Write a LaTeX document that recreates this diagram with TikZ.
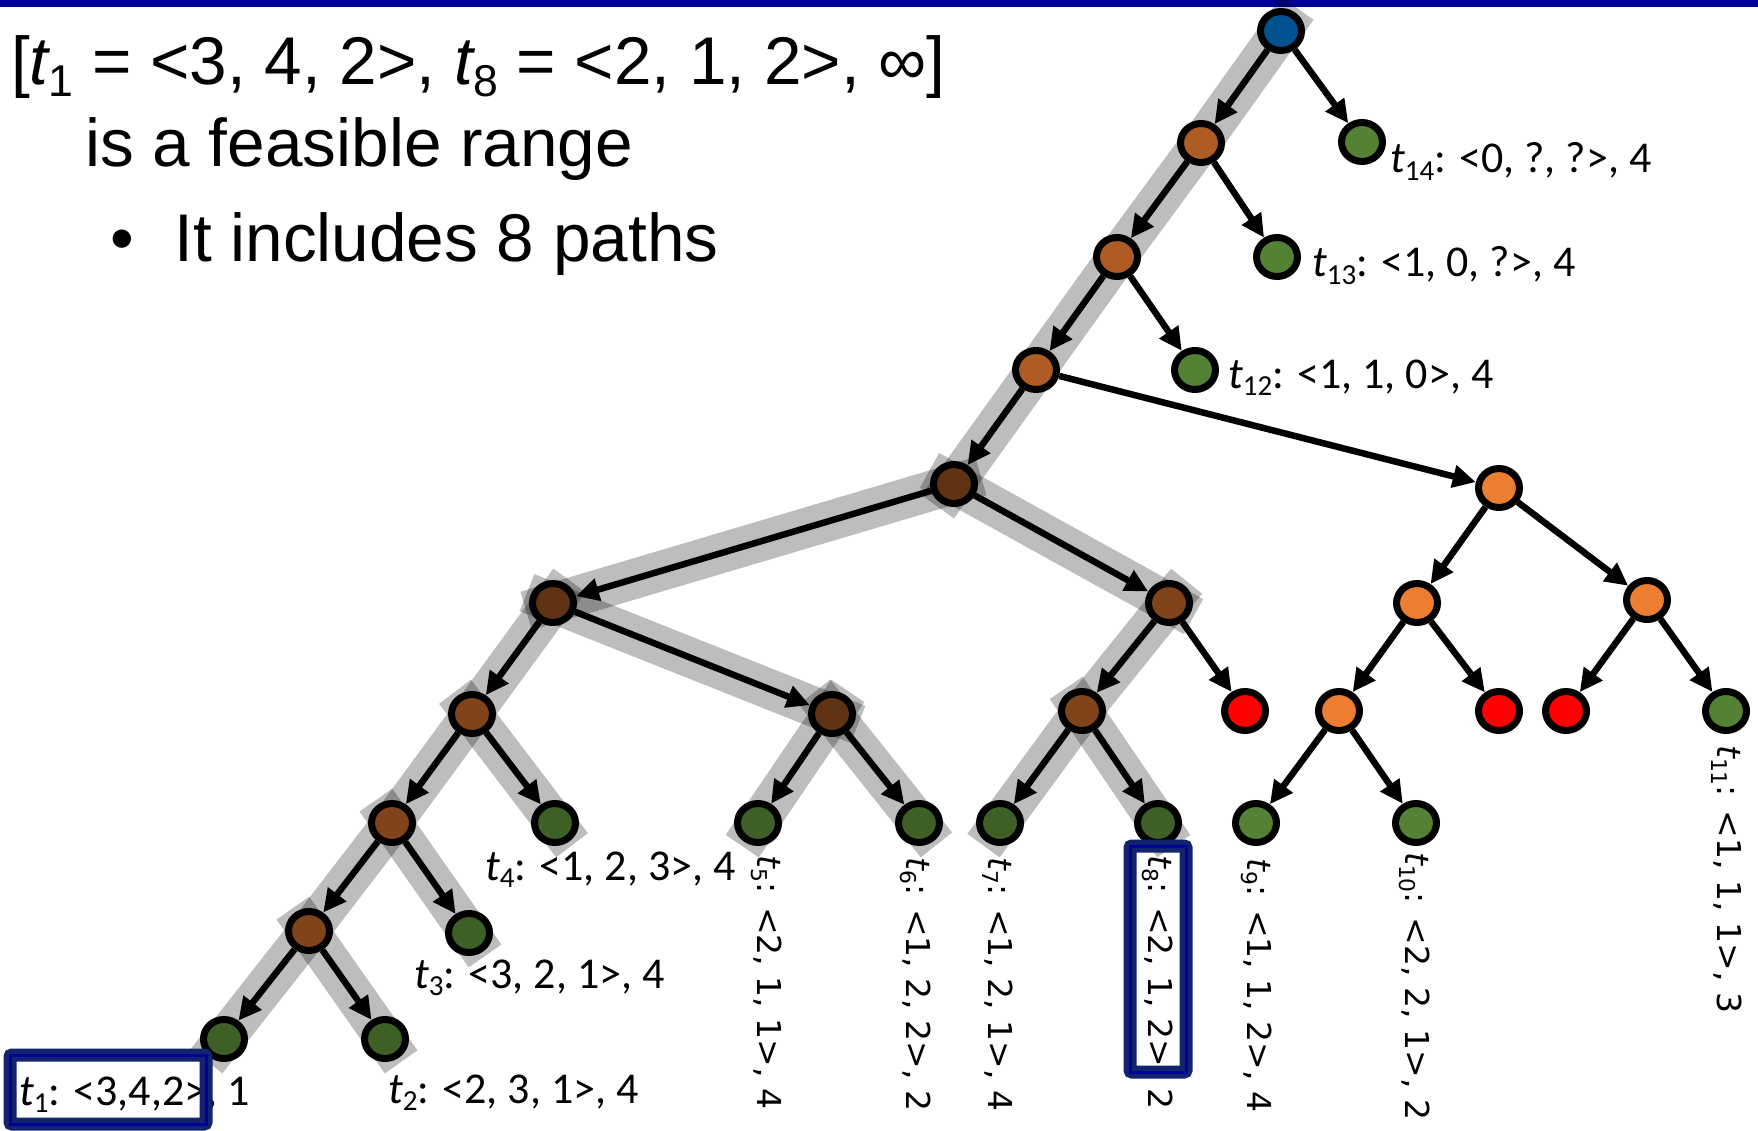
\documentclass[tikz,border=0pt]{standalone}
\usepackage{fontspec}
\usepackage{graphicx}
\setmainfont{Liberation Sans}
\newfontfamily\calfont{Carlito}
\newfontfamily\djfont{DejaVu Sans}
\usetikzlibrary{arrows.meta,shapes.geometric}
\definecolor{ngreen}{HTML}{548235}
\definecolor{norange}{HTML}{ED7D31}
\definecolor{nred}{HTML}{FF0000}
\definecolor{nblue}{HTML}{0070C0}
\definecolor{topbar}{HTML}{000099}
\definecolor{boxnavy}{HTML}{13246E}
\newcommand\ts[1]{{\itshape t}\raisebox{-0.17em}{\scalebox{0.66}{#1}}}
\tikzset{
  nd/.style={ellipse, draw=black, line width=7pt, minimum width=41pt, minimum height=39pt, inner sep=0pt},
  inner/.style={nd, fill=norange},
  leaf/.style={nd, fill=ngreen},
  dead/.style={nd, fill=nred},
  arr/.style={draw=black, line width=6.5pt, -{Triangle[length=23pt,width=22pt]}},
  band/.style={draw=black, draw opacity=0.26, line width=40pt, line join=round, shorten <=-28pt, shorten >=-28pt},
  title/.style={inner sep=0pt, anchor=base west, font=\fontsize{67.5}{80}\selectfont},
  cal/.style={inner sep=0pt, anchor=base west, font=\calfont\fontsize{44}{52}\selectfont},
  vlab/.style={inner sep=0pt, anchor=base west, rotate=-90, font=\djfont\fontsize{33}{40}\selectfont},
  hbox/.style={draw=boxnavy, line width=13pt, rounded corners=2pt},
  hboxin/.style={draw=topbar, line width=3pt}
}
\begin{document}
\begin{tikzpicture}[x=1pt,y=-1pt]
\useasboundingbox (0,0) rectangle (1758,1131);
\fill[topbar] (0,0) rectangle (1758,7);
% nodes
\node[nd, fill=nblue] (root) at (1281,31) {};
\node[inner] (a1) at (1201,143) {};
\node[leaf] (t14) at (1362,142) {};
\node[inner] (a2) at (1117,257) {};
\node[leaf] (t13) at (1277,257) {};
\node[inner] (a3) at (1036,370) {};
\node[leaf] (t12) at (1195,370) {};
\node[inner] (b) at (954,484) {};
\node[inner] (c) at (1499,488) {};
\node[inner] (d) at (553,603) {};
\node[inner] (e) at (1169,603) {};
\node[inner] (c1) at (1417,603) {};
\node[inner] (c2) at (1647,600) {};
\node[inner] (d1) at (472,714) {};
\node[inner] (d2) at (832,714) {};
\node[inner] (e1) at (1082,711) {};
\node[dead] (er) at (1245,711) {};
\node[inner] (c1a) at (1339,711) {};
\node[dead] (c1r) at (1499,711) {};
\node[dead] (c2r) at (1566,711) {};
\node[leaf] (t11) at (1726,711) {};
\node[inner] (d1a) at (392,823) {};
\node[leaf] (t4) at (555,823) {};
\node[leaf] (t5) at (758,823) {};
\node[leaf] (t6) at (919,823) {};
\node[leaf] (t7) at (1000,823) {};
\node[leaf] (t8) at (1158,823) {};
\node[leaf] (t9) at (1256,823) {};
\node[leaf] (t10) at (1416,823) {};
\node[inner] (d1b) at (309,931) {};
\node[leaf] (t3) at (469,933) {};
\node[leaf] (t1) at (224,1039) {};
\node[leaf] (t2) at (385,1039) {};
% arrows
\foreach \p/\q in {root/a1,root/t14,a1/a2,a1/t13,a2/a3,a2/t12,a3/b,a3/c,
  b/d,b/e,c/c1,c/c2,d/d1,d/d2,e/e1,e/er,c1/c1a,c1/c1r,c2/c2r,c2/t11,
  d1/d1a,d1/t4,d2/t5,d2/t6,e1/t7,e1/t8,c1a/t9,c1a/t10,
  d1a/d1b,d1a/t3,d1b/t1,d1b/t2}
  \draw[arr] (\p) -- (\q);
% highlight bands
\draw[band] (root.center) -- (a1.center) -- (a2.center) -- (a3.center) -- (b.center);
\draw[band] (d.center) -- (d1.center) -- (d1a.center) -- (d1b.center) -- (t1.center);
\draw[band] (e.center) -- (e1.center) -- (t7.center);
\foreach \p/\q in {b/d,b/e,d/d2,d1/t4,d1a/t3,d1b/t2,d2/t5,d2/t6,e1/t8}
  \draw[band] (\p.center) -- (\q.center);
% title
\node[title] (h1) at (11,85) {[\ts{1} = <3, 4, 2>, \ts{8} = <2, 1, 2>, ∞]};
\node[title] (h2) at (85,167) {is a feasible range};
\node[title] (h3) at (110,262) {•\hspace{0.6em}It includes 8 paths};
% labels
\node[cal] (l14) at (1390,173) {\ts{14}: <0, ?, ?>, 4};
\node[cal] (l13) at (1312,277) {\ts{13}: <1, 0, ?>, 4};
\node[cal] (l12) at (1228,388) {\ts{12}: <1, 1, 0>, 4};
\node[cal] (l4) at (485,880) {\ts{4}: <1, 2, 3>, 4};
\node[cal] (l3) at (414,988) {\ts{3}: <3, 2, 1>, 4};
\node[cal] (l2) at (388,1103) {\ts{2}: <2, 3, 1>, 4};
\node[cal] (l1) at (19,1105) {\ts{1}: <3,4,2>, 1};
\node[vlab] (l5) at (757,855) {\ts{5}: <2, 1, 1>, 4};
\node[vlab] (l6) at (906,857) {\ts{6}: <1, 2, 2>, 2};
\node[vlab] (l7) at (988,857) {\ts{7}: <1, 2, 1>, 4};
\node[vlab] (l8) at (1148,855) {\ts{8}: <2, 1, 2>, 2};
\node[vlab] (l9) at (1247,858) {\ts{9}: <1, 1, 2>, 4};
\node[vlab] (l10) at (1405,852) {\ts{10}: <2, 2, 1>, 2};
\node[vlab] (l11) at (1717,745) {\ts{11}: <1, 1, 1>, 3};
% highlight boxes
\draw[hbox] (10,1055) rectangle (206,1124);
\draw[hboxin] (10,1055) rectangle (206,1124);
\draw[hbox] (1130,846) rectangle (1186,1072);
\draw[hboxin] (1130,846) rectangle (1186,1072);
\end{tikzpicture}
\end{document}
